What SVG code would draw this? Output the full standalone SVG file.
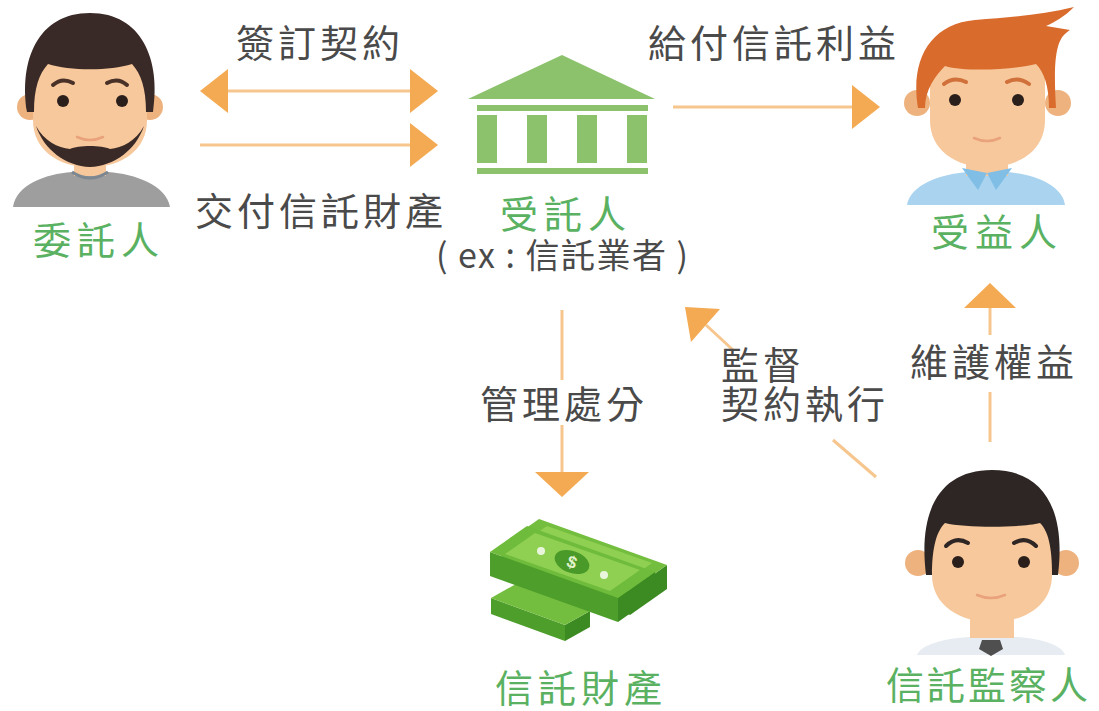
<svg xmlns="http://www.w3.org/2000/svg" width="1099" height="711" viewBox="0 0 1099 711">
  <style>
    .lbl { font-family: "Noto Sans CJK TC", "Noto Sans CJK SC", "Noto Sans", sans-serif; font-size: 38px; fill: #4a4a4a; letter-spacing: 4px; }
    .role { font-family: "Noto Sans CJK TC", "Noto Sans CJK SC", "Noto Sans", sans-serif; font-size: 38px; fill: #5ab162; letter-spacing: 6px; }
    .line { stroke: #f6c68e; stroke-width: 3; fill: none; }
    .head { fill: #f4aa52; }
    .skin { fill: #f7c89c; }
    .ear { fill: #eeb27e; }
    .eye { fill: #2b1f1c; }
    .smile { fill: none; stroke: #e9a27b; stroke-width: 2.5; stroke-linecap: round; }
    .bank { fill: #8bc26b; }
  </style>

  <rect width="1099" height="711" fill="#ffffff"/>

  <!-- settlor -->
  <g id="settlor">
    <path d="M13,207 C16,185 45,174 72,172 L108,172 C135,174 166,185 170,207 Z" fill="#9e9e9e"/>
    <rect class="skin" x="74" y="150" width="32" height="26"/>
    <path d="M72,172 Q90,184 108,172" fill="none" stroke="#7c8791" stroke-width="3"/>
    <circle class="ear" cx="30" cy="107" r="13"/>
    <circle class="ear" cx="150" cy="107" r="13"/>
    <path class="skin" d="M33,70 Q33,52 55,52 L125,52 Q147,52 147,70 L147,120 C147,150 122,167 90,167 C58,167 33,150 33,120 Z"/>
    <path d="M27,112 C19,60 38,13 90,13 C142,13 161,60 153,112 L146,112 C146,88 141,74 132,64 C110,71 70,71 48,64 C39,74 34,88 34,112 Z" fill="#3a2a27"/>
    <path d="M36,126 C44,150 66,166 90,167 C114,166 136,150 144,126 C136,141 122,148 110,149 C102,145 78,145 70,149 C58,148 44,141 36,126 Z" fill="#3a2a27"/>
    <path d="M53,85 Q62,77 73,83" fill="none" stroke="#4a3128" stroke-width="4" stroke-linecap="round"/>
    <path d="M107,83 Q118,77 127,85" fill="none" stroke="#4a3128" stroke-width="4" stroke-linecap="round"/>
    <circle class="eye" cx="63" cy="101" r="6"/>
    <circle class="eye" cx="122" cy="101" r="6"/>
    <path class="smile" d="M77,137 Q90,143 103,137"/>
    <text class="role" x="33" y="254">委託人</text>
  </g>

  <!-- trustee -->
  <g id="trustee">
    <polygon class="bank" points="468,99 562,55 655,99"/>
    <rect class="bank" x="477" y="105" width="171" height="6"/>
    <rect class="bank" x="477" y="115" width="20" height="48"/>
    <rect class="bank" x="527" y="115" width="20" height="48"/>
    <rect class="bank" x="577" y="115" width="20" height="48"/>
    <rect class="bank" x="627" y="115" width="20" height="48"/>
    <rect class="bank" x="477" y="168" width="171" height="6"/>
    <text class="role" x="500" y="228">受託人</text>
    <text class="lbl" x="436" y="268" textLength="252" lengthAdjust="spacing" style="letter-spacing:0;font-size:34px">( ex : 信託業者 )</text>
  </g>

  <!-- beneficiary -->
  <g id="beneficiary">
    <path d="M907,205 C910,185 940,174 968,172 L1006,172 C1034,174 1062,185 1065,205 Z" fill="#a9d3ef"/>
    <rect class="skin" x="966" y="150" width="42" height="26"/>
    <path d="M962,168 L987,173 L978,190 Z M1012,168 L987,173 L996,190 Z" fill="#80bee6"/>
    <circle class="ear" cx="917" cy="103" r="13"/>
    <circle class="ear" cx="1058" cy="103" r="13"/>
    <path class="skin" d="M930,70 Q930,50 952,50 L1023,50 Q1045,50 1045,70 L1045,120 C1045,150 1020,167 987,167 C955,167 930,150 930,120 Z"/>
    <path d="M918,108 C910,60 930,24 975,20 C1012,17 1042,15 1074,7 C1064,17 1055,22 1046,26 L1070,30 C1060,37 1052,44 1056,108 L1049,108 C1049,86 1044,72 1036,64 C1012,70 965,72 945,66 C935,76 925,90 925,108 Z" fill="#d96b2c"/>
    <path d="M944,84 Q954,76 966,82" fill="none" stroke="#d0703a" stroke-width="4" stroke-linecap="round"/>
    <path d="M1007,82 Q1018,76 1029,84" fill="none" stroke="#d0703a" stroke-width="4" stroke-linecap="round"/>
    <circle class="eye" cx="955" cy="100" r="6"/>
    <circle class="eye" cx="1018" cy="100" r="6"/>
    <path class="smile" d="M974,138 Q987,144 1000,138"/>
    <text class="role" x="931" y="246">受益人</text>
  </g>

  <!-- trust property -->
  <g id="property">
    <!-- lower bundle -->
    <polygon points="491,598 565,625 565,641 491,614" fill="#4e9e2c"/>
    <polygon points="565,625 590,611 590,627 565,641" fill="#3b8a22"/>
    <polygon points="491,598 516,584 590,611 565,625" fill="#74be3f"/>
    <!-- rear bundle -->
    <g transform="translate(12,-7)">
      <polygon points="490,552 618,598 618,622 490,576" fill="#4e9e2c"/>
      <polygon points="618,598 655,572 655,596 618,622" fill="#3b8a22"/>
      <polygon points="490,552 527,526 655,572 618,598" fill="#74be3f"/>
      <polygon points="505,554 535,533 640,570 610,591" fill="#8fd052"/>
    </g>
    <!-- front bundle -->
    <polygon points="490,552 618,598 618,622 490,576" fill="#4e9e2c"/>
    <polygon points="618,598 655,572 655,596 618,622" fill="#3b8a22"/>
    <polygon points="490,552 527,526 655,572 618,598" fill="#6fbb3b"/>
    <polygon points="505,554 535,533 640,570 610,591" fill="#8fd052"/>
    <ellipse cx="572" cy="562" rx="18" ry="11" transform="rotate(20 572 562)" fill="#4a9a2a"/>
    <text x="572" y="568" font-family="Liberation Sans, sans-serif" font-size="17" font-weight="bold" fill="#e4f4cc" text-anchor="middle" transform="rotate(20 572 562)">$</text>
    <circle cx="541" cy="551" r="4" fill="#eaf6dc"/>
    <circle cx="604" cy="575" r="4" fill="#eaf6dc"/>
    <text class="role" x="495" y="702" style="letter-spacing:5px">信託財產</text>
  </g>

  <!-- trust supervisor -->
  <g id="supervisor">
    <path d="M917,655 C920,645 945,638 970,637 L1014,637 C1040,638 1062,645 1065,655 Z" fill="#e7ecf2"/>
    <rect class="skin" x="970" y="605" width="44" height="33"/>
    <polygon points="982,640 1000,640 1003,649 991,656 979,649" fill="#4f4f4f"/>
    <circle class="ear" cx="918" cy="563" r="13"/>
    <circle class="ear" cx="1066" cy="563" r="13"/>
    <path class="skin" d="M932,530 Q932,508 955,508 L1030,508 Q1052,508 1052,530 L1052,575 C1052,605 1025,622 992,622 C959,622 932,605 932,575 Z"/>
    <path d="M926,575 C918,510 940,470 992,470 C1044,470 1066,510 1058,575 L1052,575 C1052,546 1048,531 1040,523 C1020,528 965,528 945,523 C937,531 932,546 932,575 Z" fill="#2e2624"/>
    <path d="M946,546 Q956,536 968,543" fill="none" stroke="#2e2624" stroke-width="4" stroke-linecap="round"/>
    <path d="M1014,543 Q1026,536 1036,546" fill="none" stroke="#2e2624" stroke-width="4" stroke-linecap="round"/>
    <circle class="eye" cx="958" cy="562" r="6"/>
    <circle class="eye" cx="1024" cy="562" r="6"/>
    <path class="smile" d="M977,595 Q991,601 1005,595"/>
    <text class="role" x="886" y="699" style="letter-spacing:3px">信託監察人</text>
  </g>

  <!-- connectors -->
  <g id="connectors">
    <line class="line" x1="228" y1="91" x2="410" y2="91"/>
    <polygon class="head" points="200,91 228,69 228,113"/>
    <polygon class="head" points="438,91 410,69 410,113"/>
    <text class="lbl" x="236" y="57">簽訂契約</text>

    <line class="line" x1="200" y1="145" x2="410" y2="145"/>
    <polygon class="head" points="438,145 410,123 410,167"/>
    <text class="lbl" x="195" y="225">交付信託財產</text>

    <line class="line" x1="673" y1="107" x2="852" y2="107"/>
    <polygon class="head" points="880,107 852,85 852,129"/>
    <text class="lbl" x="648" y="57">給付信託利益</text>

    <line class="line" x1="562" y1="310" x2="562" y2="380"/>
    <line class="line" x1="562" y1="425" x2="562" y2="472"/>
    <polygon class="head" points="562,497 535,472 589,472"/>
    <text class="lbl" x="480" y="418">管理處分</text>

    <line class="line" x1="990" y1="308" x2="990" y2="335"/>
    <line class="line" x1="990" y1="392" x2="990" y2="442"/>
    <polygon class="head" points="990,283 964,308 1016,308"/>
    <text class="lbl" x="910" y="376">維護權益</text>

    <line class="line" x1="706" y1="325" x2="733" y2="350"/>
    <line class="line" x1="833" y1="440" x2="876" y2="477"/>
    <polygon class="head" points="685,307 720,309 691,342"/>
    <text class="lbl" x="721" y="379">監督</text>
    <text class="lbl" x="721" y="418">契約執行</text>
  </g>
</svg>
